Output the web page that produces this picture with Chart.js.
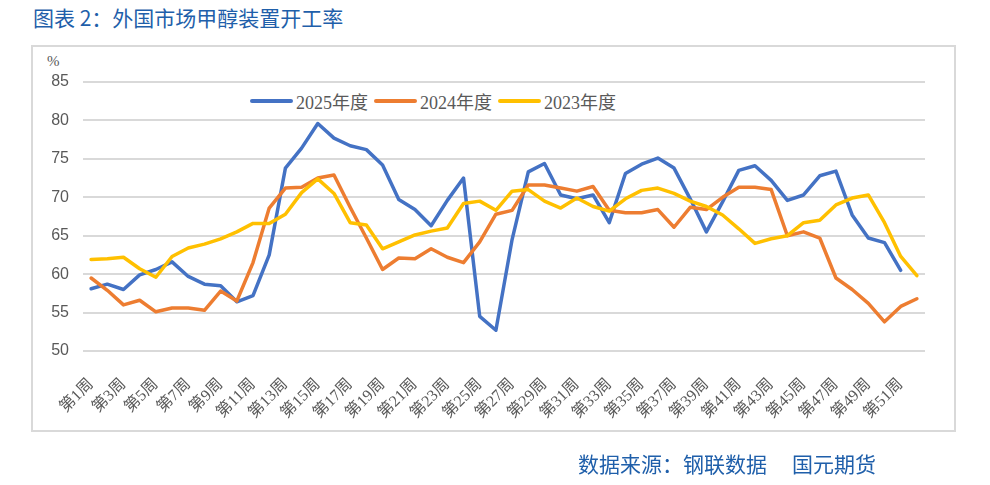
<!DOCTYPE html>
<html>
<head>
<meta charset="utf-8">
<script src="https://cdn.jsdelivr.net/npm/chart.js@4.4.1/dist/chart.umd.min.js"></script>
<style>
  html, body { margin: 0; padding: 0; background: #ffffff; }
  body { width: 990px; height: 485px; position: relative; overflow: hidden; }
  #title { position: absolute; left: 33px; top: 6px; font-family: 'Noto Sans CJK SC', sans-serif; font-size: 21px; line-height: 22px; color: #1F5FAA; white-space: nowrap; }
  #footer { position: absolute; left: 578px; top: 452px; font-family: 'Noto Sans CJK SC', sans-serif; font-size: 21px; line-height: 22px; color: #1F5FAA; white-space: nowrap; }
  #footer span { margin-left: 25px; }
  #frame { position: absolute; left: 31px; top: 45px; width: 925px; height: 387px; border: 2px solid #d9d9d9; box-sizing: border-box; }
  #unit { position: absolute; left: 47px; top: 53px; font-family: 'Liberation Serif', serif; font-size: 15px; color: #595959; }
  #legend { position: absolute; left: 250px; top: 88px; display: flex; align-items: center; font-family: 'Liberation Serif', 'Noto Sans CJK SC', serif; font-size: 18px; color: #595959; white-space: nowrap; }
  #legend .item { display: flex; align-items: center; margin-right: 6px; }
  #legend .bar { width: 43px; height: 4px; border-radius: 2px; margin-right: 3px; }
  canvas { position: absolute; left: 0; top: 0; }
</style>
</head>
<body>
<div id="title">图表 2：外国市场甲醇装置开工率</div>
<div id="frame"></div>
<div id="unit">%</div>
<div id="legend"></div>
<canvas id="c" width="990" height="485"></canvas>
<div id="footer">数据来源：钢联数据<span>国元期货</span></div>
<script>
const weeks = ["第1周","第2周","第3周","第4周","第5周","第6周","第7周","第8周","第9周","第10周",
  "第11周","第12周","第13周","第14周","第15周","第16周","第17周","第18周","第19周","第20周",
  "第21周","第22周","第23周","第24周","第25周","第26周","第27周","第28周","第29周","第30周",
  "第31周","第32周","第33周","第34周","第35周","第36周","第37周","第38周","第39周","第40周",
  "第41周","第42周","第43周","第44周","第45周","第46周","第47周","第48周","第49周","第50周",
  "第51周","第52周"];

const seriesNames = ["2025年度", "2024年度", "2023年度"];
const seriesColors = ["#4472C4", "#ED7D31", "#FFC000"];

const rate2025 = [58.1,58.7,58.0,59.9,60.6,61.6,59.7,58.7,58.5,56.4,
  57.2,62.5,73.8,76.4,79.6,77.7,76.7,76.2,74.2,69.7,
  68.4,66.3,69.6,72.5,54.5,52.7,64.5,73.3,74.4,70.3,
  69.8,70.3,66.7,73.1,74.3,75.1,73.8,69.8,65.5,69.4,
  73.5,74.1,72.2,69.6,70.3,72.8,73.4,67.7,64.7,64.1,
  60.5,null];

const rate2024 = [59.5,57.9,56.0,56.6,55.1,55.6,55.6,55.3,57.8,56.5,
  61.5,68.6,71.2,71.3,72.5,72.9,68.7,64.7,60.6,62.1,
  62.0,63.3,62.2,61.5,64.2,67.8,68.3,71.6,71.6,71.2,
  70.8,71.4,68.3,68.0,68.0,68.4,66.1,68.7,68.4,70.0,
  71.3,71.3,71.0,65.0,65.5,64.7,59.5,58.0,56.2,53.8,
  55.8,56.8];

const rate2023 = [61.9,62.0,62.2,60.7,59.6,62.3,63.4,63.9,64.6,65.5,
  66.6,66.6,67.8,70.6,72.4,70.5,66.7,66.4,63.3,64.2,
  65.1,65.6,66.0,69.2,69.5,68.3,70.8,71.0,69.5,68.6,
  69.9,68.8,68.2,69.8,70.9,71.2,70.5,69.5,68.8,67.7,
  65.9,64.0,64.6,65.0,66.7,67.0,69.0,69.9,70.3,66.7,
  62.3,59.8];

const yMin = 50, yMax = 85, yStep = 5;

const seriesData = [rate2025, rate2024, rate2023];

// HTML legend
const legendEl = document.getElementById('legend');
seriesNames.forEach((name, i) => {
  const item = document.createElement('div');
  item.className = 'item';
  const bar = document.createElement('div');
  bar.className = 'bar';
  bar.style.background = seriesColors[i];
  const txt = document.createElement('span');
  txt.textContent = name;
  item.appendChild(bar);
  item.appendChild(txt);
  legendEl.appendChild(item);
});

const datasets = seriesNames.map((name, i) => ({
  label: name,
  data: seriesData[i],
  borderColor: seriesColors[i],
  backgroundColor: seriesColors[i],
  borderWidth: 3.5,
  pointRadius: 0,
  tension: 0,
  fill: false,
  spanGaps: false,
  borderCapStyle: 'round',
  borderJoinStyle: 'round',
  order: 3 - i
}));

new Chart(document.getElementById('c'), {
  type: 'line',
  data: { labels: weeks, datasets: datasets },
  options: {
    responsive: false,
    animation: false,
    devicePixelRatio: 1,
    layout: { padding: { left: 0, right: 65, top: 82, bottom: 0 } },
    plugins: { legend: { display: false }, tooltip: { enabled: false } },
    scales: {
      x: {
        offset: true,
        grid: { display: false, drawTicks: false },
        border: { display: false },
        ticks: {
          autoSkip: false,
          maxRotation: 45,
          minRotation: 45,
          padding: 24,
          color: '#595959',
          font: { family: "'Liberation Serif', 'Noto Sans CJK SC', serif", size: 16 },
          callback: function(v, i) { return i % 2 === 0 ? this.getLabelForValue(v) : ''; }
        },
        afterFit: s => { s.height = 134; }
      },
      y: {
        min: yMin,
        max: yMax,
        ticks: {
          stepSize: yStep,
          padding: 14,
          color: '#595959',
          font: { family: "'Liberation Sans', sans-serif", size: 16 }
        },
        grid: { color: '#d9d9d9', lineWidth: 2, drawTicks: false },
        border: { display: false },
        afterFit: s => { s.width = 83; }
      }
    }
  }
});
</script>
</body>
</html>
